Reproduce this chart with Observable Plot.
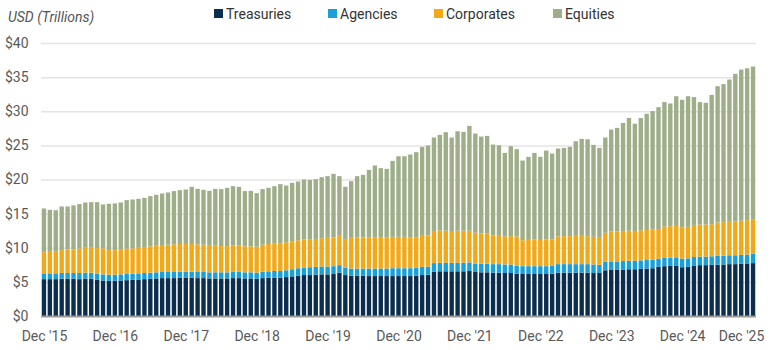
<!DOCTYPE html>
<html>
<head>
<meta charset="utf-8">
<script src="https://cdn.jsdelivr.net/npm/d3@7"></script>
<script src="https://cdn.jsdelivr.net/npm/@observablehq/plot@0.6"></script>
<style>
  body { margin: 0; background: #fff; font-family: Roboto, "Noto Sans", sans-serif; }
  #wrap { position: relative; width: 780px; height: 350px; overflow: hidden; }
  #wrap svg { position: absolute; left: 0; top: 0; }
  .unit { position: absolute; left: 8px; top: 9px; font-size: 14px; line-height: 16px; font-style: italic; color: #555; white-space: nowrap; }
  .leg { position: absolute; top: 5px; height: 17px; display: flex; align-items: center; font-size: 14px; color: #333; white-space: nowrap; }
  .leg .sw { display: inline-block; width: 9px; height: 9px; margin-right: 3px; }
</style>
</head>
<body>
<div id="wrap">
  <div class="unit">USD (Trillions)</div>
  <div id="legend"></div>
</div>
<script>
// ---- data ----
const seriesNames = ["Treasuries", "Agencies", "Corporates", "Equities"];
const seriesColors = ["#0b2d4e", "#1b9fd9", "#f2a918", "#9dae88"];
const legendLeft = [214, 328, 434, 553];

// monthly categories, Dec 2015 .. Dec 2025
const months = d3.utcMonth.range(new Date(Date.UTC(2015, 11, 1)), new Date(Date.UTC(2026, 0, 1)));
const tickLabels = ["Dec '15", "Dec '16", "Dec '17", "Dec '18", "Dec '19", "Dec '20", "Dec '21", "Dec '22", "Dec '23", "Dec '24", "Dec '25"];
const yTicks = [0, 5, 10, 15, 20, 25, 30, 35, 40];

const treasuries = [
  5.4, 5.4, 5.4, 5.45, 5.45, 5.45, 5.4, 5.45, 5.45, 5.3,
  5.2, 5.15, 5.15, 5.2, 5.25, 5.3, 5.35, 5.4, 5.45, 5.5,
  5.55, 5.55, 5.55, 5.6, 5.6, 5.6, 5.55, 5.55, 5.5, 5.5,
  5.5, 5.5, 5.55, 5.55, 5.5, 5.5, 5.45, 5.55, 5.6, 5.6,
  5.6, 5.7, 5.8, 5.9, 6.0, 6.0, 6.05, 6.1, 6.1, 6.15,
  6.35, 6.0, 5.9, 5.9, 5.9, 5.85, 5.85, 5.85, 5.85, 5.85,
  5.85, 5.85, 5.85, 5.9, 6.0, 6.05, 6.5, 6.55, 6.55, 6.55,
  6.55, 6.55, 6.6, 6.45, 6.4, 6.4, 6.35, 6.35, 6.3, 6.3,
  6.2, 6.15, 6.15, 6.15, 6.15, 6.15, 6.2, 6.35, 6.35, 6.35,
  6.35, 6.35, 6.35, 6.3, 6.3, 6.7, 6.75, 6.75, 6.8, 6.85,
  6.85, 6.9, 6.95, 7.0, 7.2, 7.3, 7.35, 7.4, 7.15, 7.2,
  7.4, 7.45, 7.45, 7.5, 7.5, 7.55, 7.6, 7.6, 7.65, 7.7,
  7.75
];
const agencies = [
  0.85, 0.85, 0.85, 0.85, 0.85, 0.85, 0.9, 0.9, 0.9, 0.9,
  0.9, 0.9, 0.9, 0.9, 0.9, 0.9, 0.9, 0.9, 0.9, 0.9,
  0.9, 0.9, 0.9, 0.9, 0.9, 0.9, 0.9, 0.9, 0.9, 0.9,
  0.9, 0.9, 0.9, 0.9, 0.9, 0.9, 0.9, 0.95, 0.95, 1.0,
  1.0, 1.0, 1.05, 1.1, 1.1, 1.15, 1.15, 1.15, 1.15, 1.15,
  1.1, 1.05, 1.05, 1.05, 1.05, 1.1, 1.1, 1.1, 1.1, 1.15,
  1.15, 1.15, 1.15, 1.15, 1.2, 1.2, 1.25, 1.25, 1.25, 1.25,
  1.25, 1.25, 1.25, 1.25, 1.25, 1.25, 1.25, 1.25, 1.25, 1.25,
  1.15, 1.15, 1.15, 1.15, 1.15, 1.15, 1.15, 1.25, 1.25, 1.25,
  1.25, 1.25, 1.25, 1.25, 1.2, 1.25, 1.25, 1.25, 1.25, 1.25,
  1.25, 1.25, 1.25, 1.25, 1.2, 1.2, 1.2, 1.2, 1.25, 1.25,
  1.25, 1.25, 1.25, 1.25, 1.3, 1.3, 1.3, 1.3, 1.3, 1.3,
  1.35
];
const corporates = [
  3.1, 3.15, 3.25, 3.35, 3.45, 3.45, 3.6, 3.65, 3.65, 3.75,
  3.8, 3.6, 3.6, 3.6, 3.7, 3.7, 3.75, 3.8, 3.85, 3.9,
  3.95, 4.0, 4.05, 4.05, 4.05, 4.05, 4.05, 4.0, 4.0, 3.9,
  3.85, 3.85, 3.85, 3.85, 3.8, 3.8, 3.8, 3.95, 4.0, 4.0,
  4.05, 4.1, 4.1, 4.1, 4.1, 4.1, 4.1, 4.15, 4.2, 4.2,
  4.3, 4.25, 4.5, 4.55, 4.55, 4.6, 4.6, 4.6, 4.6, 4.6,
  4.6, 4.6, 4.55, 4.5, 4.55, 4.55, 4.7, 4.75, 4.7, 4.65,
  4.7, 4.7, 4.65, 4.5, 4.45, 4.4, 4.2, 4.15, 4.1, 4.15,
  4.3, 3.8, 3.85, 3.9, 3.85, 3.9, 3.85, 4.05, 4.1, 4.1,
  4.15, 4.15, 4.1, 4.05, 3.95, 4.25, 4.4, 4.4, 4.4, 4.4,
  4.35, 4.4, 4.4, 4.4, 4.35, 4.6, 4.6, 4.6, 4.6, 4.6,
  4.7, 4.7, 4.7, 4.7, 4.9, 4.9, 4.9, 4.95, 5.0, 5.05,
  5.1
];
const equities = [
  6.41, 6.16, 6.0, 6.4, 6.3, 6.45, 6.5, 6.63, 6.68, 6.73,
  6.44, 6.79, 6.85, 6.93, 7.13, 7.17, 7.17, 7.2, 7.36, 7.46,
  7.55, 7.65, 7.8, 7.89, 7.99, 8.38, 8.13, 8.04, 7.94, 8.33,
  8.34, 8.53, 8.72, 8.63, 8.1, 8.14, 7.85, 8.14, 8.23, 8.42,
  8.67, 8.32, 8.56, 8.61, 8.8, 8.7, 8.75, 8.94, 9.04, 9.33,
  8.74, 7.63, 8.31, 8.99, 9.18, 9.86, 10.5, 10.11, 10.01, 11.13,
  11.81, 11.81, 12.11, 12.45, 13.03, 13.18, 13.7, 13.99, 14.43, 13.7,
  14.57, 14.48, 15.35, 14.53, 14.19, 14.34, 13.32, 13.27, 12.25, 13.18,
  12.79, 11.68, 12.17, 12.7, 12.17, 13.04, 12.6, 12.89, 12.93, 13.08,
  13.86, 14.2, 14.2, 13.47, 13.18, 13.95, 14.92, 15.16, 15.84, 16.52,
  15.72, 16.45, 17.03, 17.37, 17.85, 18.24, 17.99, 19.0, 18.68, 19.15,
  18.72, 17.94, 17.84, 18.95, 19.97, 20.22, 20.85, 21.63, 22.15, 22.25,
  22.35
];

// ---- build table ----
const seriesValues = [treasuries, agencies, corporates, equities];
const rows = [];
months.forEach((m, i) => {
  seriesNames.forEach((s, k) => rows.push({ i, month: m, series: s, value: seriesValues[k][i] }));
});
const tickIdx = tickLabels.map((_, k) => k * 12);

// ---- legend (HTML) ----
const legend = document.getElementById("legend");
seriesNames.forEach((s, k) => {
  const d = document.createElement("div");
  d.className = "leg";
  d.style.left = legendLeft[k] + "px";
  d.innerHTML = `<span class="sw" style="background:${seriesColors[k]}"></span>${s}`;
  legend.appendChild(d);
});

// ---- chart ----
const labelColor = "#595959";
const chart = Plot.plot({
  width: 780,
  height: 350,
  marginLeft: 41,
  marginRight: 24,
  marginTop: 43,
  marginBottom: 34,
  style: { fontFamily: "Roboto, 'Noto Sans', sans-serif", fontSize: "14px", background: "transparent" },
  x: { type: "band", domain: d3.range(months.length), paddingInner: 0.26, paddingOuter: 0.13, round: false },
  y: { domain: [0, 40] },
  color: { domain: seriesNames, range: seriesColors },
  marks: [
    Plot.gridY(yTicks.filter(d => d > 0), { stroke: "#e4e4e4", strokeOpacity: 1, strokeWidth: 1.5 }),
    Plot.barY(rows, { x: "i", y: "value", fill: "series", order: seriesNames }),
    Plot.ruleY([0], { stroke: "#9a9a9a", strokeWidth: 2 }),
    Plot.axisY(yTicks, { tickSize: 0, tickPadding: 13, tickFormat: d => "$" + d, fill: labelColor, label: null, fontSize: 14 }),
    Plot.axisX(tickIdx.slice(0, -1), { tickSize: 0, tickPadding: 15, tickFormat: i => tickLabels[i / 12], fill: labelColor, label: null, fontSize: 14 }),
    Plot.axisX(tickIdx.slice(-1), { tickSize: 0, tickPadding: 15, tickFormat: i => tickLabels[i / 12], fill: labelColor, label: null, fontSize: 14, dx: -12 })
  ]
});
document.getElementById("wrap").insertBefore(chart, document.getElementById("wrap").firstChild);
</script>
</body>
</html>
